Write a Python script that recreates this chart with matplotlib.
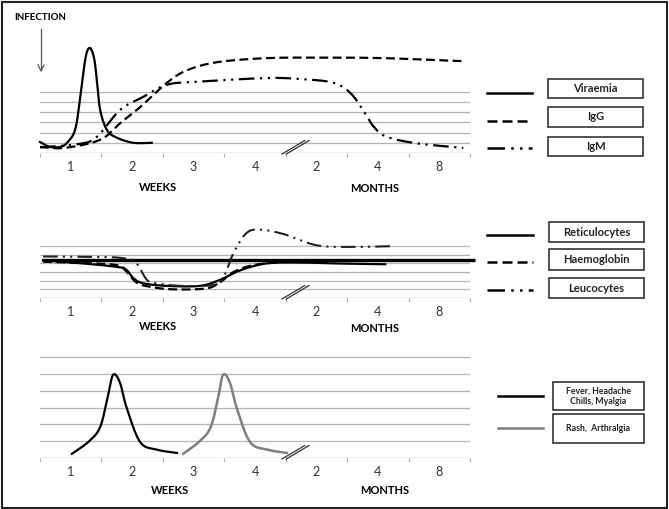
import numpy as np
import matplotlib.pyplot as plt
from matplotlib.lines import Line2D
from matplotlib.patches import Rectangle

# ---- data (x in category units 0..7, y in gridline units) ----
tick_labels = ["1", "2", "3", "4", "2", "4", "8"]

viraemia_x = [0.0, 0.16, 0.33, 0.44, 0.57, 0.65, 0.74, 0.81, 0.88, 0.93, 0.98, 1.09, 1.25, 1.52, 1.82]
viraemia_y = [1.08, 0.6, 0.6, 1.0, 2.25, 5.2, 9.3, 10.3, 9.3, 6.9, 4.2, 2.25, 1.5, 1.0, 1.0]

igg_x = [0.0, 0.4, 0.98, 1.3, 1.63, 2.07, 2.39, 2.88, 3.69, 4.6, 5.6, 6.89]
igg_y = [0.6, 0.5, 1.3, 2.9, 4.5, 6.9, 8.1, 8.9, 9.3, 9.35, 9.3, 9.0]

igm_x = [0.0, 0.65, 0.93, 1.3, 1.68, 2.07, 2.6, 3.69, 4.23, 4.77, 5.05, 5.26, 5.43, 5.64, 6.13, 6.89]
igm_y = [0.55, 0.9, 1.6, 4.2, 5.5, 6.7, 7.0, 7.35, 7.25, 6.9, 5.9, 4.2, 2.6, 1.6, 0.95, 0.5]

normal_level = 4.35

retic_x = [0.05, 0.7, 1.25, 1.4, 1.52, 1.68, 2.07, 2.6, 2.93, 3.26, 3.69, 4.23, 4.77, 5.62]
retic_y = [4.35, 4.0, 3.6, 3.3, 2.3, 1.7, 1.4, 1.4, 2.1, 3.2, 4.0, 4.1, 4.0, 3.9]

haemo_x = [0.05, 0.7, 1.25, 1.4, 1.57, 1.79, 2.17, 2.7, 2.93, 3.15, 3.47, 3.96, 4.4]
haemo_y = [4.2, 4.05, 3.8, 3.1, 1.8, 1.3, 1.0, 1.1, 1.8, 3.0, 3.8, 4.15, 4.15]

leuco_x = [0.05, 0.98, 1.35, 1.55, 1.74, 1.9, 2.3, 2.82, 2.98, 3.15, 3.36, 3.58, 3.96, 4.5, 5.05, 5.75]
leuco_y = [4.8, 4.75, 4.6, 4.2, 2.1, 1.7, 1.4, 1.5, 2.3, 5.2, 7.5, 7.9, 7.4, 6.1, 5.9, 6.0]

fever_x = [0.52, 0.8, 0.98, 1.1, 1.19, 1.3, 1.41, 1.63, 1.9, 2.23]
fever_y = [0.25, 1.0, 1.85, 3.6, 4.95, 4.5, 3.0, 0.95, 0.5, 0.3]

rash_x = [2.33, 2.6, 2.78, 2.9, 2.98, 3.09, 3.2, 3.42, 3.7, 4.02]
rash_y = [0.25, 1.0, 1.85, 3.6, 4.95, 4.5, 3.0, 0.95, 0.5, 0.3]


def smooth(x, y):
    # Catmull-Rom spline through the read points
    pts = np.column_stack([np.asarray(x, float), np.asarray(y, float)])
    p = np.vstack([pts[0], pts, pts[-1]])
    out = []
    for i in range(1, len(p) - 2):
        p0, p1, p2, p3 = p[i - 1], p[i], p[i + 1], p[i + 2]
        for s in np.linspace(0, 1, 20, endpoint=False):
            out.append(0.5 * ((2 * p1) + (-p0 + p2) * s
                              + (2 * p0 - 5 * p1 + 4 * p2 - p3) * s ** 2
                              + (-p0 + 3 * p1 - 3 * p2 + p3) * s ** 3))
    out.append(pts[-1])
    out = np.array(out)
    return out[:, 0], out[:, 1]


W, H = 669, 509
fig = plt.figure(figsize=(W / 100, H / 100), dpi=100)
plt.rcParams['font.family'] = ['Lato', 'DejaVu Sans']

DASH = (0, (4, 2))
DDOT = (0, (7, 2.5, 1, 2.5, 1, 2.5))


def make_axes(base_px, step_px, top_px):
    ymax = (base_px - top_px) / step_px
    ax = fig.add_axes([40 / W, (H - base_px) / H, 430 / W, (base_px - top_px) / H])
    ax.set_xlim(0, 7)
    ax.set_ylim(0, ymax)
    for s in ax.spines.values():
        s.set_visible(False)
    for g in range(1, 7):
        ax.axhline(g, color="#b5b5b5", lw=0.9, zorder=1)
    ax.axhline(0, color="#b0b0b0", lw=1.0, zorder=1)
    ax.set_yticks([])
    ax.set_xticks(np.arange(8))
    ax.set_xticklabels([])
    ax.tick_params(axis="x", length=3, color="#b0b0b0", width=0.8)
    for i, lab in enumerate(tick_labels):
        ax.text(i + 0.5, -14 / step_px, lab, ha="center", va="center",
                fontsize=9, color="#333333")
    # axis break mark
    for dx in (0.0, 0.07):
        ax.plot([3.94 + dx, 4.31 + dx], [-0.1 * 10 / step_px, 1.25 * 10 / step_px],
                color="#333333", lw=0.9, clip_on=False, zorder=3)
    return ax


def legend_row(x0, x1, y, style, color, bx0, bx1, by0, by1, label, fs=8):
    fig.add_artist(Line2D([x0 / W, x1 / W], [1 - y / H, 1 - y / H], color=color,
                          lw=1.8, linestyle=style))
    fig.add_artist(Rectangle((bx0 / W, 1 - by1 / H), (bx1 - bx0) / W, (by1 - by0) / H,
                             transform=fig.transFigure, fill=False,
                             edgecolor="#222222", lw=1.1))
    fig.text((bx0 + bx1) / 2 / W, 1 - (by0 + by1) / 2 / H, label, ha="center",
             va="center", fontsize=fs, fontweight="bold", color="#222222",
             linespacing=1.2)


# ---- panel 1 ----
ax1 = make_axes(153, 10.2, 40)
ax1.plot(*smooth(viraemia_x, viraemia_y), color="black", lw=1.6, clip_on=False, zorder=4)
ax1.plot(*smooth(igg_x, igg_y), color="black", lw=1.6, ls=DASH, clip_on=False, zorder=4)
ax1.plot(*smooth(igm_x, igm_y), color="black", lw=1.6, ls=DDOT, clip_on=False, zorder=4)
fig.text(158 / W, 1 - 188 / H, "WEEKS", ha="center", va="center", fontsize=8, fontweight="bold")
fig.text(375 / W, 1 - 189 / H, "MONTHS", ha="center", va="center", fontsize=8, fontweight="bold")
fig.text(14 / W, 1 - 17 / H, "INFECTION", ha="left", va="center", fontsize=7, fontweight="bold")
fig.add_artist(Line2D([41 / W, 41 / W], [1 - 29 / H, 1 - 70 / H], color="#555555", lw=0.9))
fig.add_artist(Line2D([38 / W, 41 / W, 44 / W], [1 - 65 / H, 1 - 71 / H, 1 - 65 / H],
                      color="#555555", lw=0.9))

legend_row(487, 532, 93, "-", "black", 548, 643, 79, 98, "Viraemia")
legend_row(487, 532, 121, DASH, "black", 548, 643, 107, 127, "IgG")
legend_row(487, 532, 148, DDOT, "black", 548, 643, 137, 156, "IgM")

# ---- panel 2 ----
ax2 = make_axes(298, 8.65, 222)
ax2.plot([0.03, 7.08], [normal_level, normal_level], color="black", lw=2.4,
         clip_on=False, zorder=3, solid_capstyle="butt")
ax2.plot(*smooth(retic_x, retic_y), color="black", lw=1.6, clip_on=False, zorder=4)
ax2.plot(*smooth(haemo_x, haemo_y), color="black", lw=1.6, ls=DASH, clip_on=False, zorder=4)
ax2.plot(*smooth(leuco_x, leuco_y), color="#222222", lw=1.5, ls=DDOT, clip_on=False, zorder=4)
fig.text(158 / W, 1 - 327 / H, "WEEKS", ha="center", va="center", fontsize=8, fontweight="bold")
fig.text(375 / W, 1 - 328 / H, "MONTHS", ha="center", va="center", fontsize=8, fontweight="bold")

legend_row(487, 533, 235, "-", "black", 549, 644, 222, 242, "Reticulocytes")
legend_row(487, 533, 262, DASH, "black", 549, 644, 249, 270, "Haemoglobin")
legend_row(487, 533, 290, DDOT, "black", 549, 644, 278, 298, "Leucocytes")

# ---- panel 3 ----
ax3 = make_axes(458, 16.8, 348)
ax3.plot(*smooth(fever_x, fever_y), color="black", lw=1.6, clip_on=False, zorder=4)
ax3.plot(*smooth(rash_x, rash_y), color="#7f7f7f", lw=1.8, clip_on=False, zorder=4)
fig.text(170 / W, 1 - 491 / H, "WEEKS", ha="center", va="center", fontsize=8, fontweight="bold")
fig.text(385 / W, 1 - 491 / H, "MONTHS", ha="center", va="center", fontsize=8, fontweight="bold")

legend_row(498, 543, 396, "-", "black", 553, 644, 382, 410, "Fever, Headache\nChills, Myalgia", fs=6.3)
legend_row(498, 543, 428, "-", "#7f7f7f", 553, 644, 414, 443, "Rash,  Arthralgia", fs=6.3)

# outer frame
fig.add_artist(Rectangle((1.5 / W, 1.5 / H), 665.5 / W, 505.5 / H, transform=fig.transFigure,
                         fill=False, edgecolor="#222222", lw=1.5))

fig.savefig("out.png", dpi=100)
